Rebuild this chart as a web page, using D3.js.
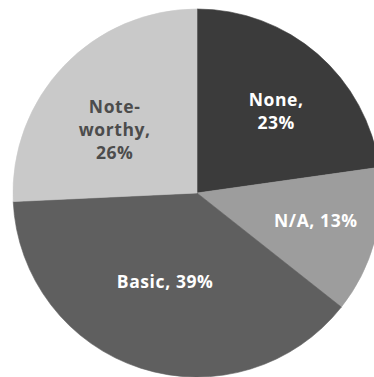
<!DOCTYPE html>
<html>
<head>
<meta charset="utf-8">
<script src="https://cdn.jsdelivr.net/npm/d3@7"></script>
<style>
  html, body { margin: 0; padding: 0; background: #fff; }
  svg { display: block; }
</style>
</head>
<body>
<svg id="chart" width="374" height="377"></svg>
<script>
// Share of responses by rating
const categories = ["None", "N/A", "Basic", "Noteworthy"];
const values = [23, 13, 39, 26];
const labelLines = [["None,", "23%"], ["N/A, 13%"], ["Basic, 39%"], ["Note-", "worthy,", "26%"]];

// Presentation
const fills = { "None": "#3b3b3b", "N/A": "#9d9d9d", "Basic": "#5f5f5f", "Noteworthy": "#c9c9c9" };
const textFills = { "None": "#ffffff", "N/A": "#ffffff", "Basic": "#ffffff", "Noteworthy": "#4c4c4c" };
const labelRadius = { "None": 114, "N/A": 122, "Basic": 94, "Noteworthy": 104 };
const labelAngleShift = { "None": 3, "N/A": -2, "Basic": 2, "Noteworthy": -6 };

const W = 374, H = 377;
const cx = 197, cy = 193, R = 184;
const lineH = 23;

const svg = d3.select("#chart");
const g = svg.append("g").attr("transform", `translate(${cx},${cy})`);

const data = categories.map((c, i) => ({ name: c, value: values[i], lines: labelLines[i] }));

const pie = d3.pie().value(d => d.value).sort(null);
const arc = d3.arc().innerRadius(0).outerRadius(R);
const arcs = pie(data);

g.selectAll("path.slice")
  .data(arcs)
  .join("path")
  .attr("class", "slice")
  .attr("d", arc)
  .attr("fill", d => fills[d.data.name])
  .attr("stroke", d => fills[d.data.name])
  .attr("stroke-width", 0.6);

const labels = g.selectAll("text.label")
  .data(arcs)
  .join("text")
  .attr("class", "label")
  .attr("text-anchor", "middle")
  .attr("font-family", "'Open Sans', sans-serif")
  .attr("font-weight", 700)
  .attr("font-size", 17.5)
  .attr("letter-spacing", 0.6)
  .attr("fill", d => textFills[d.data.name])
  .attr("transform", d => {
    const mid = (d.startAngle + d.endAngle) / 2 + labelAngleShift[d.data.name] * Math.PI / 180;
    const r = labelRadius[d.data.name];
    return `translate(${r * Math.sin(mid)},${-r * Math.cos(mid)})`;
  });

labels.each(function(d) {
  const n = d.data.lines.length;
  const t = d3.select(this);
  d.data.lines.forEach((line, i) => {
    t.append("tspan")
      .attr("x", 0)
      .attr("y", (i - (n - 1) / 2) * lineH)
      .attr("dy", "0.36em")
      .text(line);
  });
});
</script>
</body>
</html>
